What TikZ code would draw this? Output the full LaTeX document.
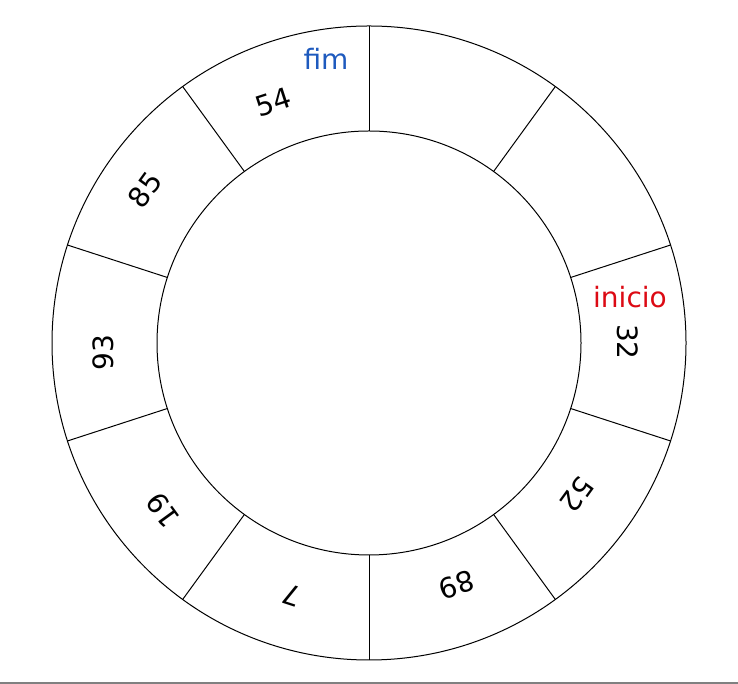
\documentclass[tikz,border=0pt]{standalone}
\usepackage{fontspec}
\setmainfont{DejaVu Sans}
\definecolor{fimblue}{RGB}{30,90,190}
\definecolor{inired}{RGB}{220,10,20}
\begin{document}
\begin{tikzpicture}[x=1pt,y=1pt,
  ring/.style={draw=black,line width=1pt},
  val/.style={font=\fontsize{28}{30}\selectfont,inner sep=0pt},
  tag/.style={font=\fontsize{28}{30}\selectfont,inner sep=0pt}]
\useasboundingbox (0,0) rectangle (738,684);
\coordinate (C) at (369,341);
\draw[ring] (C) circle (317);
\draw[ring] (C) circle (212);
\foreach \a in {90,126,...,414}
  \draw[ring,shift={(C)}] (\a:212) -- (\a:317);
\node[val,rotate=18]  (v54) at (273,582) {54};
\node[val,rotate=54]  (v85) at (145,494) {85};
\node[val,rotate=90]  (v93) at (103,331) {93};
\node[val,rotate=126] (v19) at (163,174) {19};
\node[val,rotate=162] (v7)  at (292,89)  {7};
\node[val,rotate=198] (v89) at (457,99)  {89};
\node[val,rotate=234] (v52) at (577,189) {52};
\node[val,rotate=270] (v32) at (628,342) {32};
\node[tag,text=fimblue] (fim) at (326,625) {fim};
\node[tag,text=inired] (ini) at (630,387) {inicio};
\draw[gray,line width=1.5pt] (0,1) -- (738,1);
\end{tikzpicture}
\end{document}
